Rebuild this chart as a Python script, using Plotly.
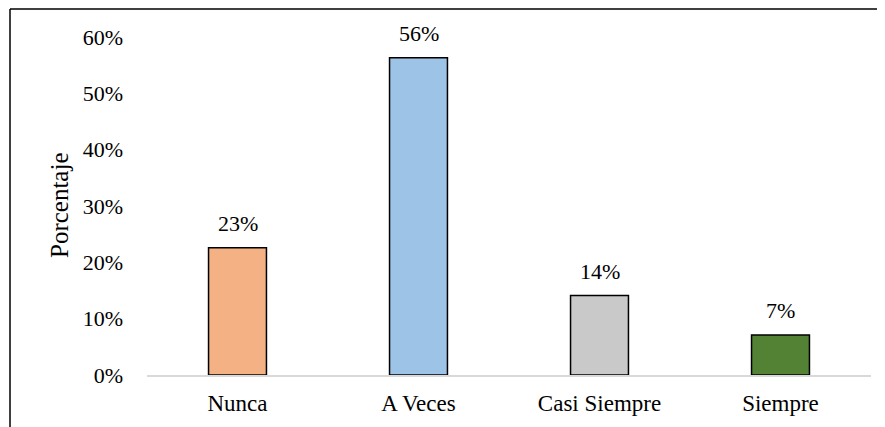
import plotly.graph_objects as go

categories = ["Nunca", "A Veces", "Casi Siempre", "Siempre"]
values = [22.6, 56.3, 14.1, 7.1]
labels = ["23%", "56%", "14%", "7%"]
colors = ["#F4B183", "#9DC3E6", "#C9C9C9", "#548235"]
ytick_vals = [0, 10, 20, 30, 40, 50, 60]
ytick_text = ["0%", "10%", "20%", "30%", "40%", "50%", "60%"]

FONT = "Liberation Serif, Times New Roman, serif"

# page body has an 8px margin; compensate so that page coordinates match
OFF = 8
W, H = 885 - OFF, 427 - OFF
L, T = 147 - OFF, 37 - OFF
pw, ph = 724, 338
R = W - L - pw
B = H - T - ph

def px(x):
    return (x - OFF - L) / pw

def py(y):
    return (T + ph - (y - OFF)) / ph

fig = go.Figure()
fig.add_trace(go.Bar(
    x=categories, y=values,
    marker=dict(color=colors, line=dict(color="#000000", width=1.5)),
    width=0.32,
    hoverinfo="skip",
))

annotations = [
    dict(x=c, y=v, text=t, xref="x", yref="y", showarrow=False,
         yanchor="bottom", yshift=10,
         font=dict(family=FONT, size=22, color="#000000"))
    for c, v, t in zip(categories, values, labels)
]
annotations.append(dict(
    text="Porcentaje", textangle=-90, xref="paper", yref="paper",
    x=px(59), y=py(205), xanchor="center", yanchor="middle",
    showarrow=False, font=dict(family=FONT, size=25, color="#000000"),
))

fig.update_layout(
    width=W, height=H,
    margin=dict(l=L, r=R, t=T, b=B, autoexpand=False),
    paper_bgcolor="white", plot_bgcolor="white",
    showlegend=False,
    font=dict(family=FONT, size=22, color="#000000"),
    xaxis=dict(
        showgrid=False, showline=True, linecolor="#D9D9D9", linewidth=2,
        ticks="", tickfont=dict(family=FONT, size=23, color="#000000"),
        ticklabelstandoff=6, automargin=False,
    ),
    yaxis=dict(
        range=[0, 60], tickvals=ytick_vals, ticktext=ytick_text,
        showgrid=False, showline=False, zeroline=False, ticks="",
        tickfont=dict(family=FONT, size=22, color="#000000"),
        ticklabelstandoff=23, automargin=False,
    ),
    annotations=annotations,
    shapes=[
        dict(type="line", xref="paper", yref="paper",
             x0=px(10), x1=px(10), y0=py(440), y1=py(9),
             line=dict(color="#000000", width=1.5)),
        dict(type="line", xref="paper", yref="paper",
             x0=px(10), x1=px(900), y0=py(9), y1=py(9),
             line=dict(color="#000000", width=1.5)),
    ],
)

fig.write_html("out.html")
